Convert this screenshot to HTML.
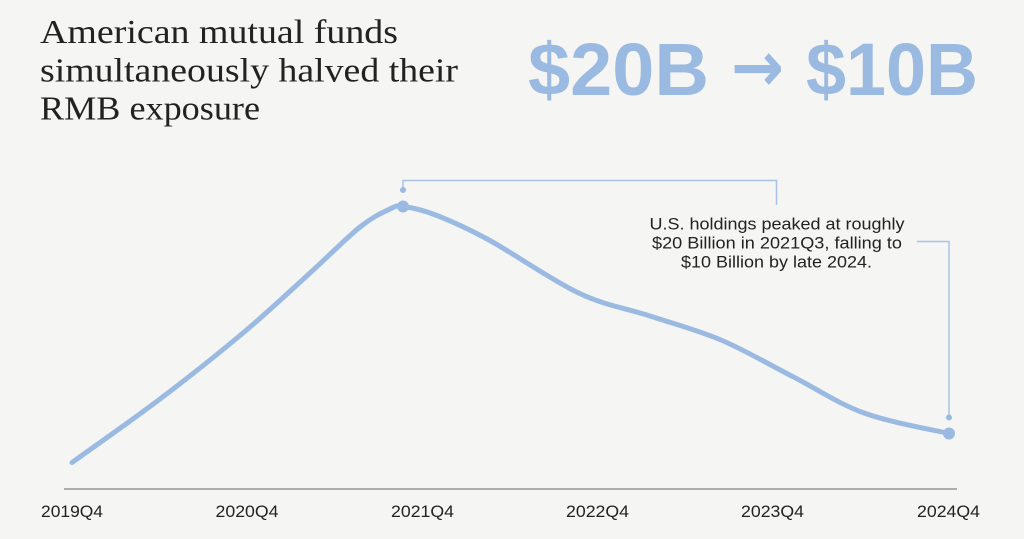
<!DOCTYPE html>
<html>
<head>
<meta charset="utf-8">
<style>
  html, body { margin: 0; padding: 0; background: #f5f5f3; }
  svg { display: block; }
</style>
</head>
<body>
<svg width="1024" height="539" viewBox="0 0 1024 539" xmlns="http://www.w3.org/2000/svg">
  <rect x="0" y="0" width="1024" height="539" fill="#f5f5f3"/>

  <!-- Title -->
  <g font-family="'Liberation Serif', serif" font-size="34" fill="#222">
    <text x="40" y="43" textLength="358" lengthAdjust="spacingAndGlyphs">American mutual funds</text>
    <text x="40" y="81.5" textLength="418" lengthAdjust="spacingAndGlyphs">simultaneously halved their</text>
    <text x="40" y="119.5" textLength="220" lengthAdjust="spacingAndGlyphs">RMB exposure</text>
  </g>

  <!-- Big number -->
  <g font-family="'Liberation Sans', sans-serif" font-weight="bold" font-size="74" fill="#9bbae1">
    <text x="528" y="95" textLength="181" lengthAdjust="spacingAndGlyphs">$20B</text>
    <text x="731" y="91" font-family="'DejaVu Sans', sans-serif" font-size="70" textLength="53" lengthAdjust="spacingAndGlyphs">→</text>
    <text x="806" y="95" textLength="172" lengthAdjust="spacingAndGlyphs">$10B</text>
  </g>

  <!-- Axis -->
  <line x1="64" y1="489" x2="957" y2="489" stroke="#808080" stroke-width="1.2"/>
  <g font-family="'Liberation Sans', sans-serif" font-size="17" fill="#222">
    <text x="41" y="517" textLength="62" lengthAdjust="spacingAndGlyphs">2019Q4</text>
    <text x="215.5" y="517" textLength="63" lengthAdjust="spacingAndGlyphs">2020Q4</text>
    <text x="391" y="517" textLength="63" lengthAdjust="spacingAndGlyphs">2021Q4</text>
    <text x="566" y="517" textLength="63" lengthAdjust="spacingAndGlyphs">2022Q4</text>
    <text x="741" y="517" textLength="63" lengthAdjust="spacingAndGlyphs">2023Q4</text>
    <text x="917" y="517" textLength="63" lengthAdjust="spacingAndGlyphs">2024Q4</text>
  </g>

  <!-- Connector lines -->
  <g stroke="#a9c3e6" stroke-width="1.5" fill="none">
    <polyline points="403,190 403,180.5 776.5,180.5 776.5,205"/>
    <polyline points="917,241.5 949,241.5 949,417"/>
  </g>
  <circle cx="403" cy="190" r="3" fill="#9bbae1"/>
  <circle cx="949" cy="417.5" r="3" fill="#9bbae1"/>

  <!-- Series -->
  <path id="series" fill="none" stroke="#9bbae1" stroke-width="5" stroke-linecap="round" stroke-linejoin="round" d=""/>
  <circle cx="403" cy="206.5" r="6" fill="#9bbae1"/>
  <circle cx="949" cy="433.5" r="6" fill="#9bbae1"/>

  <!-- Annotation -->
  <g font-family="'Liberation Sans', sans-serif" font-size="17" fill="#222">
    <text x="649.5" y="229.5" textLength="255" lengthAdjust="spacingAndGlyphs">U.S. holdings peaked at roughly</text>
    <text x="652" y="248.5" textLength="250" lengthAdjust="spacingAndGlyphs">$20 Billion in 2021Q3, falling to</text>
    <text x="681" y="267.5" textLength="191" lengthAdjust="spacingAndGlyphs">$10 Billion by late 2024.</text>
  </g>
</svg>
<script>
(function(){
  var pts=[[72,462.5],[160,399],[243,333],[310,273],[360,227],[390,209],[403,206.5],[435.7,215],[489,240],[578.6,293],[650,316],[721,340],[793,376.7],[864,413],[949,433.5]];
  var d="M"+pts[0][0]+","+pts[0][1];
  for(var i=0;i<pts.length-1;i++){
    var p0=pts[i-1]||pts[i], p1=pts[i], p2=pts[i+1], p3=pts[i+2]||pts[i+1];
    var c1x=p1[0]+(p2[0]-p0[0])/6, c1y=p1[1]+(p2[1]-p0[1])/6;
    var c2x=p2[0]-(p3[0]-p1[0])/6, c2y=p2[1]-(p3[1]-p1[1])/6;
    d+=" C"+c1x.toFixed(1)+","+c1y.toFixed(1)+" "+c2x.toFixed(1)+","+c2y.toFixed(1)+" "+p2[0]+","+p2[1];
  }
  document.getElementById("series").setAttribute("d",d);
})();
</script>
</body>
</html>
